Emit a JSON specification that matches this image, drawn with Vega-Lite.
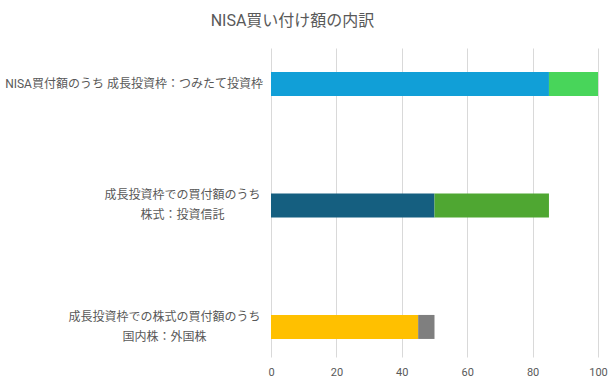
{
  "$schema": "https://vega.github.io/schema/vega-lite/v6.json",
  "autosize": {"type": "none"},
  "padding": {"left": 271, "top": 48, "right": 14, "bottom": 26},
  "width": 327,
  "height": 309,
  "background": "white",
  "title": {
    "text": "NISA買い付け額の内訳",
    "font": "Roboto, Noto Sans CJK JP",
    "fontSize": 16,
    "fontWeight": "normal",
    "color": "#595959",
    "anchor": "middle",
    "dx": -142,
    "offset": 19
  },
  "data": {
    "values": [
      {"category": "NISA買付額のうち 成長投資枠：つみたて投資枠", "segment": "成長投資枠", "order": 1, "value": 85},
      {"category": "NISA買付額のうち 成長投資枠：つみたて投資枠", "segment": "つみたて投資枠", "order": 2, "value": 15},
      {"category": "成長投資枠での買付額のうち\n株式：投資信託", "segment": "株式", "order": 1, "value": 50},
      {"category": "成長投資枠での買付額のうち\n株式：投資信託", "segment": "投資信託", "order": 2, "value": 35},
      {"category": "成長投資枠での株式の買付額のうち\n国内株：外国株", "segment": "国内株", "order": 1, "value": 45},
      {"category": "成長投資枠での株式の買付額のうち\n国内株：外国株", "segment": "外国株", "order": 2, "value": 5}
    ]
  },
  "mark": {"type": "bar"},
  "encoding": {
    "y": {
      "field": "category",
      "type": "nominal",
      "sort": null,
      "scale": {"paddingInner": 0.8025, "paddingOuter": 0.1728, "align": 0.57},
      "axis": {
        "title": null,
        "domain": false,
        "ticks": false,
        "labelExpr": "split(datum.label, '\\n')",
        "labelFont": "Roboto, Noto Sans CJK JP",
        "labelFontSize": 12,
        "labelColor": "#595959",
        "labelLineHeight": 20,
        "labelAlign": "center",
        "labelLimit": 400,
        "labelOffset": {
          "condition": {"test": "indexof(datum.value, 'NISA') == 0", "value": 0},
          "value": -10
        },
        "labelPadding": {
          "condition": [
            {"test": "indexof(datum.value, 'NISA') == 0", "value": 137.5},
            {"test": "indexof(datum.value, '株式：投資信託') > 0", "value": 89}
          ],
          "value": 107
        }
      }
    },
    "x": {
      "field": "value",
      "type": "quantitative",
      "stack": "zero",
      "scale": {"domain": [0, 100], "nice": false},
      "axis": {
        "title": null,
        "domain": false,
        "ticks": false,
        "values": [0, 20, 40, 60, 80, 100],
        "labelFlush": false,
        "labelFont": "Roboto, Noto Sans CJK JP",
        "labelFontSize": 11,
        "labelColor": "#595959",
        "labelPadding": 9,
        "gridColor": "#d9d9d9",
        "gridWidth": 1
      }
    },
    "order": {"field": "order"},
    "color": {
      "field": "segment",
      "type": "nominal",
      "scale": {
        "domain": ["成長投資枠", "つみたて投資枠", "株式", "投資信託", "国内株", "外国株"],
        "range": ["#119fd7", "#48d55a", "#155f80", "#4fa732", "#ffc000", "#7f7f7f"]
      },
      "legend": null
    }
  },
  "config": {"view": {"stroke": null}}
}
